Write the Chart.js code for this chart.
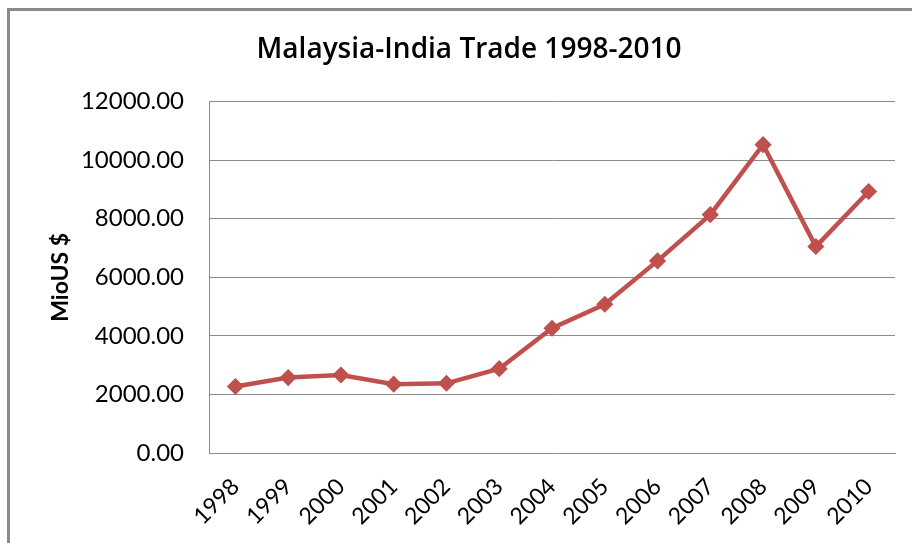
<!DOCTYPE html>
<html>
<head>
<meta charset="utf-8">
<script src="https://cdn.jsdelivr.net/npm/chart.js@4/dist/chart.umd.min.js"></script>
<style>
  html, body { margin: 0; padding: 0; background: #fff; }
  #wrap { position: relative; width: 912px; height: 543px; overflow: hidden; }
  #frame { position: absolute; left: 7px; top: 8px; width: 960px; height: 600px;
           border-top: 3px solid #8a8a8a; border-left: 3px solid #8a8a8a; pointer-events: none; }
  canvas { position: absolute; left: 0; top: 0; }
</style>
</head>
<body>
<div id="wrap">
  <canvas id="c" width="912" height="543"></canvas>
  <div id="frame"></div>
</div>
<script>
const years = ['1998','1999','2000','2001','2002','2003','2004','2005','2006','2007','2008','2009','2010'];
const tradeValues = [2270, 2575, 2665, 2350, 2380, 2880, 4260, 5080, 6560, 8140, 10530, 7050, 8930];
const yTicks = [0, 2000, 4000, 6000, 8000, 10000, 12000];
const chartTitle = 'Malaysia-India Trade 1998-2010';
const yAxisTitle = 'MioUS $';

const FONT = 'Lato, "Open Sans", sans-serif';
const gridColor = '#8c8c8c';

new Chart(document.getElementById('c'), {
  type: 'line',
  data: {
    labels: years,
    datasets: [{
      label: 'Trade',
      data: tradeValues,
      borderColor: '#C0504D',
      backgroundColor: '#C0504D',
      borderWidth: 4.5,
      pointStyle: 'rectRot',
      pointRadius: 7.5,
      pointBorderWidth: 1.5,
      pointBackgroundColor: '#C0504D',
      pointBorderColor: '#C0504D',
      tension: 0,
      clip: false
    }]
  },
  options: {
    responsive: false,
    animation: false,
    devicePixelRatio: 1,
    layout: { padding: { left: 43, right: 17, top: 10, bottom: 0 } },
    plugins: {
      legend: { display: false },
      tooltip: { enabled: false },
      title: {
        display: true,
        text: chartTitle,
        color: '#000',
        font: { family: '"Open Sans", Lato, sans-serif', size: 28, weight: '600' },
        padding: { top: 23, bottom: 35 }
      }
    },
    scales: {
      x: {
        type: 'category',
        offset: true,
        grid: { display: false, drawTicks: false },
        border: { display: true, color: gridColor, width: 1 },
        ticks: {
          color: '#000',
          font: { family: FONT, size: 23 },
          minRotation: 45,
          maxRotation: 45,
          autoSkip: false,
          padding: 20
        },
        afterFit: (s) => { s.height = 90; }
      },
      y: {
        min: 0,
        max: 12000,
        afterBuildTicks: (s) => { s.ticks = yTicks.map(v => ({ value: v })); },
        grid: { color: gridColor, lineWidth: 1, drawTicks: false },
        border: { display: true, color: gridColor, width: 1 },
        ticks: {
          color: '#000',
          font: { family: FONT, size: 24 },
          padding: 25,
          callback: (v) => Number(v).toFixed(2)
        },
        title: {
          display: true,
          text: yAxisTitle,
          color: '#000',
          font: { family: FONT, size: 23, weight: 'bold' },
          padding: { top: 4, bottom: 4 }
        },
        afterFit: (s) => { s.width = 166; }
      }
    }
  }
});
</script>
</body>
</html>
